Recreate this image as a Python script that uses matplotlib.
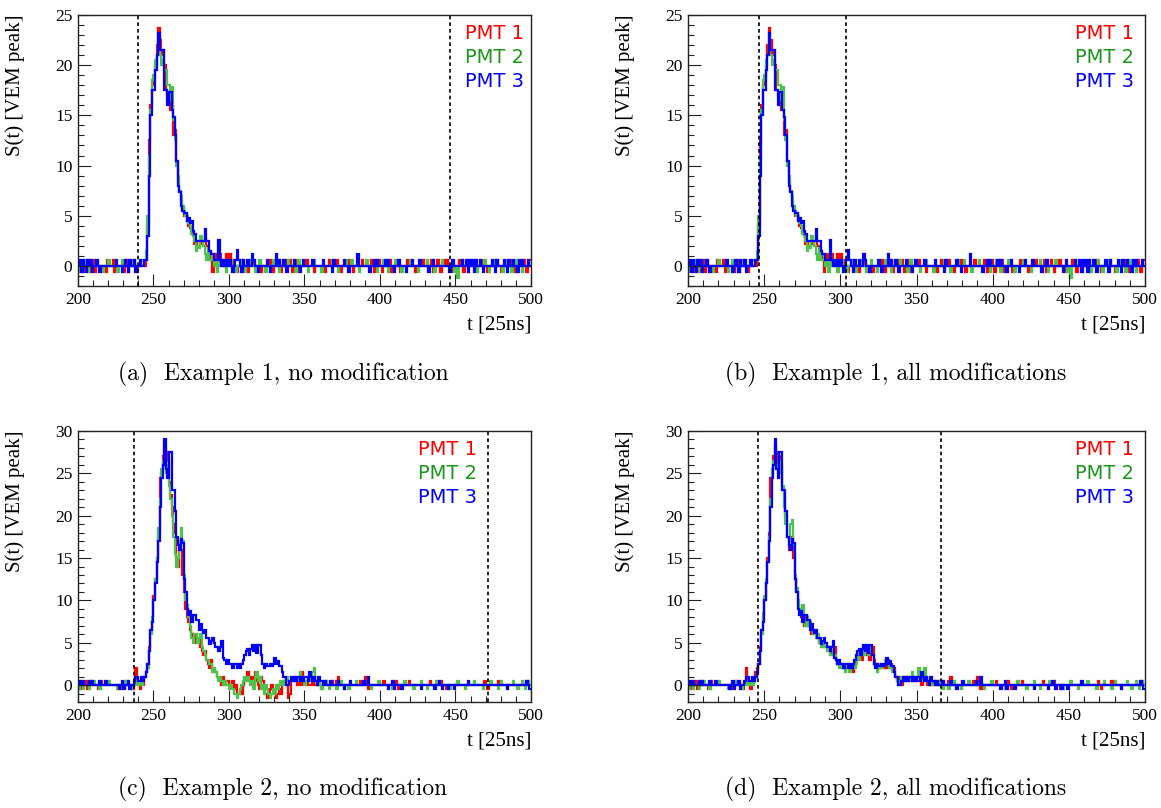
import numpy as np
import matplotlib
matplotlib.use("Agg")
import matplotlib.pyplot as plt
from matplotlib.ticker import MultipleLocator

# ---------------- data (S(t) in VEM peak, one value per 25 ns bin) ----------------
T_START = 200
T_END = 500

# ---- Example 1 (panels a and b) ----
red1_pre = [0, 0, 0, -0.6, 0, 0, 0.6, -0.6, 0, 0,
            0.6, -0.6, 0, 0, 0, 0, 0, 0, -0.6, 0.6,
            0, 0, 0, 0.6, -0.6, 0, 0, 0, 0, 0,
            -0.6, 0, 0.6, -0.6, 0, 0, 0, 0.6, 0, -0.6,
            0, 0, 0]
green1_pre = [-0.6, 0, 0, 0, 0.6, 0, -0.6, 0, 0, 0,
              0, 0, 0.6, 0, 0, 0, -0.6, 0, 0, 0,
              0.6, 0, 0, 0, 0, 0, -0.6, 0, 0, 0.6,
              0, 0, 0, -0.6, 0, 0, 0.6, 0, 0, 0,
              0, 0, 0.6]
blue1_pre = [0, 0.6, -0.6, 0.6, 0, -0.6, 0.6, 0, 0.6, -0.6,
             0, 0, 0.6, 0, -0.6, 0, 0, 0, 0, 0,
             0, 0, 0, 0, 0, 0.6, 0, 0, 0, -0.6,
             0, 0.6, 0, -0.6, 0.6, 0, 0, 0.6, -0.6, 0,
             0, 0.6, 0]

red1_pulse = [0, 0, 0.6, 4, 12.5, 16, 18, 18.5, 20, 22,
              23.7, 22.5, 21, 21.5, 20, 17.5, 17, 16.5, 15.5, 16.2,
              13, 13.5, 10.5, 8.5, 7.5, 6.5, 5.8, 5, 5.2, 4.5,
              4, 3.8, 3.5, 3, 2.2, 2.5, 2, 2, 2.5, 2.2,
              2.5, 2.8, 2, 1.5, 1.2, 0.6, -0.6, 0.6, 1.2, 0.6,
              0, 1.2, 0.6, 0, 0.6, 1.2, 0.6]
green1_pulse = [0.6, 0.6, 1.5, 5, 11, 15.5, 18.5, 19, 20.5, 21,
                22.5, 21, 20, 20.5, 19.5, 19.5, 18, 18, 16.5, 17.8,
                14.5, 12.5, 10, 9, 7.5, 7, 6, 5.5, 5, 5,
                4.3, 4, 3.2, 3, 2.5, 1.5, 2, 1.8, 3, 2.5,
                2, 1.2, 0.6, 1.8, 0.6, 0.6, 1.2, 0, 0.6, -0.6,
                0.6, 0, 0, 0.6, 0, -0.6, 0]
blue1_pulse = [0, 0.6, 0.6, 3, 9, 15, 17.5, 17.5, 19.5, 21,
               23.2, 21.5, 21.5, 21.5, 17.5, 17.5, 16, 17.3, 17.3, 15.5,
               14.8, 13, 10.5, 8, 7.4, 6, 5.5, 5.3, 5.3, 4.5,
               4.8, 4.3, 4.5, 3.5, 3.2, 2.5, 2.5, 2.5, 2.5, 2.5,
               2.5, 3.7, 2.5, 2.5, 1.5, 1.2, 1.2, 0.6, 0.6, 0.6,
               2.6, 0.6, 0, 0.6, 0, 0.6, 0]

red1_post = [1.2, 0, 0.6, 0, 0, -0.6, 0, 0, 0.6, 0, 0, 0, -0.6, 0, 0, 0, 0.6, 0, 0, 0,
             0, -0.6, 0, 0, 0, 0, 0, 0.6, 0, -0.6, 0, 0, 0, 0.6, -0.6, 0, 0, 0, 0.6, 0,
             0.6, 0, -0.6, 0, 0, 0.6, -0.6, 0, 0, 0, 0, 0.6, 0, 0, 0, 0, -0.6, 0, 0, 0,
             0, 0, 0, -0.6, 0, 0, 0.6, 0, 0, 0, 0, 0.6, 0, 0, -0.6, 0, 0, 0, 0, 0.6,
             0, 0, -0.6, 0, 0, 0, 0, 0, 0.6, 0, 0, 0, 0, 0, 0.6, 0, -0.6, 0, 0, 0.6,
             0, -0.6, 0, 0, 0, 0, 0.6, -0.6, 0, 0, 0, 0.6, 0, -0.6, 0, 0, 0, 0, 0.6, 0,
             0, 0, 0, -0.6, 0, 0, 0, 0, 0.6, 0, 0, 0, 0, 0, 0.6, -0.6, 0, 0, 0.6, 0,
             -0.6, 0, 0.6, 0, 0.6, 0, 0, 0, -0.6, 0, 0, 0, 0.6, 0, 0, -0.6, 0, 0, 0, 0,
             0, 0, 0, 0, -0.6, 0, 0, 0, 0.6, 0, 0, -0.6, 0, 0, 0, 0, 0, 0.6, 0, 0,
             -0.6, 0, 0, 0, 0, 0, 0.6, 0, 0, -0.6, 0, 0, 0, 0, 0, 0.6, 0, -0.6, 0, 0.6]
green1_post = [0, 0.6, 0, 0, -0.6, 0, 0, 0.6, 0, 0, -0.6, 0, 0, 0, 0.6, 0, 0, -0.6, 0, 0,
               0.6, 0, 0, 0, -0.6, 0, 0, 0, 0, 0.6, 0, 0, 0, -0.6, 0, 0, 0, 0, 0, 0.6,
               0, 0, 0, 0, -0.6, 0, 0.6, 0, 0, 0, 0, 0, -0.6, 0, 0, 0, 0.6, 0, 0, 0,
               0, -0.6, 0, 0, 0, 0, 0, 0, 0.6, 0, 0, 0, -0.6, 0, 0, 0, 0, 0.6, 0, 0,
               0, 0.6, 0, 0, 0, 0, -0.6, 0, 0, 0, 0, 0.6, 0, 0, 0, 0, 0, 0, -0.6, 0,
               0, 0, 0.6, 0, 0, -0.6, 0, 0, 0, 0, 0.6, 0, 0, 0, -0.6, 0, 0, 0, 0, 0,
               0.6, 0, 0, 0, 0, -0.6, 0, 0, 0, 0, 0, 0.6, 0, 0, 0, 0, -0.6, 0, 0, 0,
               0, 0.6, 0, 0, 0, 0, 0, 0, 0, -0.6, 0, -1.2, 0, 0, 0.6, 0, 0, 0, -0.6, 0,
               0, 0, 0.6, 0, -0.6, 0, 0, 0, 0, 0.6, 0, 0, -0.6, 0, 0, 0, 0.6, 0, 0, 0,
               0, -0.6, 0, 0, 0.6, 0, 0, -0.6, 0, 0, 0.6, 0, 0, 0, -0.6, 0, 0, 0, 0, 0]
blue1_post = [0.6, 0, -0.6, 0, 0.6, 1.6, 0.6, 0, -0.6, 0.6, 0, 0, 0.6, 0, 0, 1.2, 0.6, 0, 0, -0.6,
              0, 0, 0, 0, 0, 0.6, 0, -0.6, 0, 0, 0, 1.2, 0, 0.6, 0, 0, 0.6, 0, -0.6, 0,
              0, 0, 0, 0.6, 0, 0, 0, -0.6, 0, 0.6, 0, 0, 0, 0, 0, 0.6, 0, 0, 0, 0,
              0, 0, 0.6, 0, 0, 0, 0, 0, -0.6, 0.6, 0, 0, 0, 0, 0, 0, 0.6, 0, 0, -0.6,
              0, 0, 0, 0, 0, 1.2, 0, 0, 0, 0, 0, 0, 0, -0.6, 0, 0, 0.6, 0, 0.6, 0,
              0, 0, 0, 0.6, 0, 0.6, 0, 0, 0, -0.6, 0, 0, 0.6, 0, 0, 0, 0, -0.6, 0, 0,
              0, 0.6, 0, 0, 0, 0, 0.6, 0, 0, 0, 0, 0, -0.6, 0, 0, 0.6, 0, 0, 0, 0,
              0, 0, 0, 0, 0, 0, -0.6, 0, 0.6, 0, 0, 0, 0, 0, 0.6, 0, 0, 0.6, -0.6, 0.6,
              0, 0.6, -0.6, 0.6, 0, 0, 0.6, 0, -0.6, 0, 0, 0, 0, 0, 0.6, 0, -0.6, 0.6, 0, 0,
              0, 0, 0.6, 0, -0.6, 0.6, 0, 0, 0.6, 0, 0, -0.6, 0.6, 0, 0.6, 0, 0, 0, 0.6, 0]

# ---- Example 2 (panels c and d) ----
red2_pre = [0, -0.5, 0, 0, 0, 0.5, -0.5, 0, 0.5, 0,
            0, 0, 0, -0.5, 0, 0.5, 0, 0, 0, 0,
            0, 0, 0, 0, 0, 0, 0, 0, -0.5, 0,
            0, 0, 0.5, 0, 0, 0, -0.5, 0, 2, 0.5,
            0, -0.5, 0]
green2_pre = [-0.5, 0, 0.5, -0.5, 0, 0, 0, -0.5, 0, 0,
              0.5, 0, 0, 0, -0.5, 0, 0, 0, 0, 0,
              0.5, 0, 0, 0, 0, 0, -0.5, 0, 0, 0,
              0, 0.5, 0, 0, 0, -0.5, 0, 0, 0, 0.5,
              0, 0.5, 0]
blue2_pre = [0, 0.5, 0, 0.5, 0, 0, 0, 0.5, 0, 0.5,
             0, 0, 0, 0, 0.5, 0, 0, 0, 0.5, 0,
             0, 0, 0, 0, 0, 0, 0, -0.5, 0, 0.5,
             -0.5, 0, 0, 0.5, -0.5, 0, 0, 0.5, 1, 1,
             0.5, 0.5, 1]

# no modification
red2_pulse = [0, 1, 1.5, 2.5, 4.5, 6.5, 8, 10.5, 12.5, 15,
              18, 24.5, 25, 27, 28, 27.5, 26.5, 24, 22.5, 21,
              19, 18, 15, 14, 16, 16, 13, 11, 9, 8,
              7.5, 6.5, 6, 5.5, 6, 5, 5, 5.5, 4.5, 4,
              3.5, 4, 3, 2.5, 2, 3, 2, 1.5, 1.5, 1,
              1, 0.5, 0, 1, 0, 0.5, 0.5, 0, 0, 0.5,
              -0.5, 0, -1, -1, -0.5, -1, 0, 0.5, 1, 1.5,
              1, 0.5, 1, 0.5, 1.5, 0.5, 0, -0.5, 1, 0.5,
              -0.5, -1, -1.5, -1, -0.5, 0, -0.5, -1, -1.5, -1,
              -0.5, -1, 0, 0.5, 0.5, 0, -1.5, -1, 0.5, 0.5,
              1, 0.5, 0, 0.5, 0, 1.5, 0, 0, 0.5, 0,
              0, 0, 0.5, 0, 0, 0.5, 0, 0, -0.5, 0,
              0, 0.5, 0, 0, 0, 0.5, 0]
green2_pulse = [0.5, 1, 1.5, 2, 4, 6, 8, 10, 12.5, 15,
                18.5, 22, 25.5, 26.5, 27, 25, 26, 23.5, 22, 20,
                17.5, 15.5, 14, 15, 17, 18.5, 17, 13, 10, 9.5,
                8, 7, 5.5, 5, 6, 6, 5, 5.5, 6, 4.5,
                4, 3.5, 3, 3, 2.5, 2.5, 1.5, 2, 1.5, 1,
                0.5, 1, 0.5, 0, 0.5, 0, 0, -0.5, 0, -0.5,
                -1, -1, -1.5, -1, -0.5, 0, 0.5, 1, 0.5, 1,
                0.5, 0, 0.5, -0.5, 1, 1.5, 0.5, 1, -0.5, 0,
                -1, 0, -0.5, -1, -1.5, -1, -0.5, -1, 0, -0.5,
                0, 0.5, 0, 0.5, 0, 1, 0.5, 0.5, 1, 0.5,
                0.5, 1, 0.5, 1, 1.5, 0.5, 0.5, 0, 0.5, 1,
                0.5, 1, 1.5, 2, 0.5, 0, 0.5, 0, -0.5, 0,
                0, 0.5, 0, -0.5, 0, 0, 0]
blue2_pulse = [0.5, 1, 1.5, 2.5, 4, 6.5, 7.5, 10, 12, 14.5,
               17, 21, 24.5, 26, 29, 25.5, 24.5, 27.5, 27.5, 23,
               23, 20.5, 17.5, 16.5, 16, 17.3, 16.8, 12.5, 11, 9,
               8.3, 8.8, 7.5, 8.3, 8.3, 7.7, 7.7, 6.5, 7.2, 6.5,
               6.2, 6.5, 5.5, 5.5, 4.8, 5.2, 5.5, 5, 4.5, 4.5,
               4, 4.5, 5.2, 3.2, 3, 2.5, 3, 2.5, 2.5, 2,
               2.5, 2.5, 2, 2.5, 2, 2.5, 3, 3.5, 4, 4.3,
               3.5, 4.3, 4.7, 4, 4.7, 3.8, 4.7, 4.7, 3.5, 2.5,
               2, 2.5, 2.2, 2.2, 2.5, 2.2, 2.5, 3.2, 2.5, 2.8,
               2.2, 2.2, 1.5, 1, 1, 0, 0, 0.5, 1, 0.5,
               1, 0.5, 1, 1, 0.5, 1, 0.5, 1, 1, 0.5,
               1.5, 1, 0.5, 1, 0.5, 0, 1, 0.5, 0.5, 0,
               0.5, 0, 0, 0, 0.5, 0, 0]

# all modifications
red2m_pulse = [0.5, 1.5, 2, 2.5, 4.5, 6.5, 8, 10, 12, 15,
               18, 24.5, 25, 27, 28.5, 27.5, 25, 27, 26, 23,
               22, 20, 17.5, 16, 16.5, 17.5, 15, 12.5, 11, 9.5,
               9, 8, 8.5, 7, 8, 8, 7, 7.5, 6, 6.5,
               6, 6, 5.5, 5, 5, 4.5, 5, 5, 4.5, 4,
               4.5, 3.5, 4, 4.5, 3, 2.5, 2.5, 2.5, 2, 2.5,
               2, 2, 2.5, 2, 2, 1.5, 2.5, 3, 3, 3.5,
               4, 3, 4, 4.5, 3.5, 4, 3, 4, 4.5, 3,
               2.5, 2.5, 2, 2.5, 2, 2, 2.5, 2, 3, 2,
               2.5, 2, 2, 1, 0.5, 1, 0.5, 0, 0.5, 1,
               0.5, 1, 0.5, 0.5, 1, 0.5, 1, 0.5, 0.5, 1,
               0, 1, 0.5, 0.5, 0, 0.5, 0, 0, 0.5, 0,
               0, 0.5, 0, 0, 0.5, 0, 0]
green2m_pulse = [0.5, 1, 1.5, 2.5, 4, 6, 8.5, 10.5, 12.5, 14.5,
                 17.5, 22, 25.5, 26.5, 28, 26, 25.5, 26.5, 25, 23.5,
                 21, 19, 17.5, 17, 19, 19.5, 16.5, 13, 11.5, 10,
                 9, 8.5, 9.5, 7.5, 7, 8, 7, 7.5, 6.5, 6,
                 6.5, 5.5, 6, 5, 4.5, 5, 4.5, 4.5, 4, 4.5,
                 3.5, 3.5, 4, 3.5, 3, 2.5, 2, 2.5, 2, 2,
                 1.5, 2, 2, 1.5, 2, 2.5, 2, 2.5, 3.5, 3,
                 4, 4, 3.5, 4.5, 4, 3.5, 4.5, 4, 3.5, 2.5,
                 2, 1.5, 2, 2.5, 2, 2.5, 3, 2.5, 2.5, 2,
                 2, 1.5, 1.5, 1, 0.5, 0, 0.5, 1, 0.5, 1,
                 1, 0.5, 0.5, 1, 1.5, 1, 0.5, 1, 2, 1,
                 0.5, 1, 2, 1, 0.5, 0, 0.5, 0, 0, 0.5,
                 0, 0, 0.5, 0, -0.5, 0, 0]

red2_post = [0, 0.5, 1, 0, 0, 0, -0.5, 0, 0, 0, 0, 0, 0, 0, 0, 0, 0, 0.5, 0, 0,
             1, 0, -0.5, 0, 0, 0, 0, 0, 0, 0, 0, 0, 0.5, 0, 0, 0, 0, 0, 0, 0,
             0.5, 0, -0.5, 0, 0, 0, 0, 0, 0, 0.5, 0, 0, 0, 0, 0, 0, 0, 0, 0, 0,
             0, 0, 0, 0.5, 0, 0, 0, 0, 0, 0, 0.5, 0, 0, 0, -0.5, 0, 0, 0, 0, 0,
             0, 0, 0, 0, 0, 0, 0, 0, 0, 0, 0, 0, 0, 0, 0, 0, 0, 0, 0, 0.5,
             0, -0.5, 0, 0, 0, 0, 0, 0, 0.5, 0, 0, 0, 0, 0, 0, 0, 0, 0, 0, 0,
             0, 0, 0, 0, 0, 0, 0, 0.5, 0, 0]
green2_post = [0, -0.5, 0, 0, 0.5, 0, 0, 0, 0, -0.5, 0, 0, 0, 0, 0.5, 0, 0, 0, 0, 0,
               0, 0, 0, 0, -0.5, 0, 0, 0, 0, 0.5, 0, 0, 0, 0, 0, 0, 0, 0, -0.5, 0,
               0, 0, 0, 0, 0, 0, 0.5, 0, 0, 0, 0, 0, -0.5, 0, 0, 0, 0, 0.5, 0, 0,
               0, -0.5, 0, 0, 0, 0, 0, 0.5, 0, 0, 0, 0, 0, 0, 0, 0, -0.5, 0, 0, 0,
               0, 0.5, 0, 0, 0, 0, -0.5, 0, 0, 0, 0, 0, 0.5, 0, 0, 0, 0, 0, -0.5, 0,
               0, 0, 0, 0.5, 0, 0, 0, 0, -0.5, 0, 0.5, 0, 0, 0, -0.5, 0, 0, 0, 0.5, 0,
               0, -0.5, 0, 0, 0.5, 0, -0.5, 0, 0.5, 0]
blue2_post = [0, 0, 0.5, 0, 0, 0, -0.5, 0, 0, 0, 0.5, 0, 0, 0, 0, 0, 0, 0, 0, 0.5,
              0, 0, 1, 0, 0, 0, 0, 0, 0, 0, 0, 0, 0, 0, 0, -0.5, 0, 0, 0.5, -0.5,
              0, 0, 0, 0, -0.5, 0, 0, 0, 0, 0, 0, 0, 0, 0, 0, 0, 0, -0.5, 0, 0,
              0, 0, 0, 0, 0, 0, -0.5, 0, 0, 0.5, 0, -0.5, 0, 0, 0, -0.5, 0, 0, 0, -0.5,
              0, 0, 0, 0, 0, 0, 0, 0, 0.5, 0, 0, 0, 0, 0, 0, 0, 0, 0, 0, 0,
              0, 0, 0, 0, 0, 0, 0, 0, 0, 0, 0, 0, 0, 0, -0.5, 0, 0, 0, 0, 0,
              0, 0, 0, 0, 0, 0, 0, 0.5, 0, -0.5]

# start / stop times of the signal window (dashed lines)
window_a = [240, 446.5]
window_b = [246.5, 303.5]
window_c = [237, 471.5]
window_d = [246, 366]

panel_captions = ["(a)  Example 1, no modification",
                  "(b)  Example 1, all modifications",
                  "(c)  Example 2, no modification",
                  "(d)  Example 2, all modifications"]
legend_labels = ["PMT 1", "PMT 2", "PMT 3"]

# ---------------- assemble ----------------
red1 = red1_pre + red1_pulse + red1_post
green1 = green1_pre + green1_pulse + green1_post
blue1 = blue1_pre + blue1_pulse + blue1_post
red2 = red2_pre + red2_pulse + red2_post
green2 = green2_pre + green2_pulse + green2_post
blue2 = blue2_pre + blue2_pulse + blue2_post
red2m = red2_pre + red2m_pulse + red2_post
green2m = green2_pre + green2m_pulse + green2_post
for s in (red1, green1, blue1, red2, green2, blue2, red2m, green2m):
    assert len(s) == T_END - T_START, len(s)

TRACE_COLORS = ["#ff0000", "#4cc44c", "#0000ff"]
TEXT_COLORS = ["#ff0000", "#1a961a", "#0000ff"]

W, H = 1161, 808
fig = plt.figure(figsize=(W / 100, H / 100), dpi=100)

SERIF = ["Liberation Serif", "DejaVu Serif"]


def make_axes(l, t, r, b):
    return fig.add_axes([l / W, 1 - b / H, (r - l) / W, (b - t) / H])


panels = [
    dict(box=(78, 15, 531, 286), data=(red1, green1, blue1), ylim=(-2, 25), win=window_a, legx=0.985),
    dict(box=(688, 15, 1145, 286), data=(red1, green1, blue1), ylim=(-2, 25), win=window_b, legx=0.975),
    dict(box=(78, 431, 531, 702), data=(red2, green2, blue2), ylim=(-2, 30), win=window_c, legx=0.88),
    dict(box=(688, 431, 1145, 702), data=(red2m, green2m, blue2), ylim=(-2, 30), win=window_d, legx=0.975),
]
caption_pos = [(283, 374), (896, 374), (283, 789), (896, 789)]

edges = np.arange(T_START, T_END + 1)
for i, p in enumerate(panels):
    ax = make_axes(*p["box"])
    l, t, r, b = p["box"]
    aw = r - l
    for vals, col in zip(p["data"], TRACE_COLORS):
        ax.stairs(vals, edges, color=col, lw=1.6, baseline=None)
    for xw in p["win"]:
        ax.axvline(xw, color="black", lw=1.2, ls=(0, (2.2, 1.8)))
    ax.set_xlim(T_START, T_END)
    ax.set_ylim(*p["ylim"])
    ax.xaxis.set_major_locator(MultipleLocator(50))
    ax.xaxis.set_minor_locator(MultipleLocator(10))
    ax.yaxis.set_major_locator(MultipleLocator(5))
    ax.yaxis.set_minor_locator(MultipleLocator(1))
    ax.tick_params(which="both", direction="in", top=False, right=False, width=0.8, color="#222222")
    ax.tick_params(which="major", length=9, labelsize=12.5, pad=4)
    ax.tick_params(which="minor", length=4.5)
    for lab in ax.get_xticklabels() + ax.get_yticklabels():
        lab.set_fontfamily(SERIF)
    for sp in ax.spines.values():
        sp.set_linewidth(1.0)
        sp.set_color("#222222")
    ax.set_ylabel("S(t) [VEM peak]", fontfamily=SERIF, fontsize=15, loc="top")
    ax.yaxis.set_label_coords(-(l - 25 + (l - 78)) / aw if False else -53 / aw, 1.0)
    ax.set_xlabel("t [25ns]", fontfamily=SERIF, fontsize=15, loc="right")
    ax.xaxis.set_label_coords(1.0, -0.11)
    for k, (lab, col) in enumerate(zip(legend_labels, TEXT_COLORS)):
        ax.text(p["legx"], 0.93 - k * 0.087, lab, color=col, fontsize=14,
                fontfamily="DejaVu Sans", ha="right", va="center", transform=ax.transAxes)
    cx, cy = caption_pos[i]
    fig.text(cx / W, 1 - cy / H, panel_captions[i], fontfamily="cmr10", fontsize=17,
             ha="center", va="center")

fig.savefig("out.png", dpi=100)
